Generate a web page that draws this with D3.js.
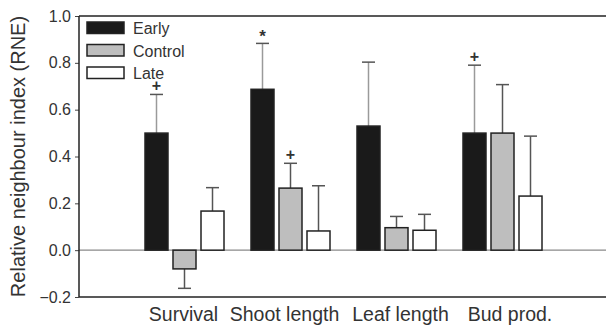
<!DOCTYPE html>
<html>
<head>
<meta charset="utf-8">
<script src="https://cdn.jsdelivr.net/npm/d3@7"></script>
<style>
  body { margin: 0; background: #fff; }
  text { font-family: "Liberation Sans", Arial, sans-serif; fill: #333; }
</style>
</head>
<body>
<div id="chart"></div>
<script>
// data
var categories = ["Survival", "Shoot length", "Leaf length", "Bud prod."];
var seriesNames = ["Early", "Control", "Late"];
var earlyValues = [0.50, 0.687, 0.53, 0.50];
var earlyErrors = [0.665, 0.883, 0.803, 0.79];
var controlValues = [-0.08, 0.265, 0.096, 0.50];
var controlErrors = [-0.163, 0.371, 0.144, 0.707];
var lateValues = [0.167, 0.082, 0.085, 0.231];
var lateErrors = [0.267, 0.275, 0.153, 0.487];
var yTicks = [-0.2, 0.0, 0.2, 0.4, 0.6, 0.8, 1.0];
var signifCats = ["Survival", "Shoot length", "Shoot length", "Bud prod."];
var signifSeries = ["Early", "Early", "Control", "Early"];
var signifSymbols = ["+", "*", "+", "+"];

var fills = { Early: "#1a1a1a", Control: "#bebebe", Late: "#ffffff" };

var rows = [];
categories.forEach(function (c, i) {
    rows.push({ cat: c, series: "Early", value: earlyValues[i], err: earlyErrors[i] });
    rows.push({ cat: c, series: "Control", value: controlValues[i], err: controlErrors[i] });
    rows.push({ cat: c, series: "Late", value: lateValues[i], err: lateErrors[i] });
});

var W = 606, H = 329;
var plotLeft = 79, plotTop = 16, plotBottom = 297;

var svg = d3.select("#chart").append("svg")
    .attr("width", W)
    .attr("height", H);

var y = d3.scaleLinear().domain([-0.2, 1.0]).range([plotBottom, plotTop]);

var x = d3.scaleBand().domain(categories).range([131.5, 555.5]).padding(0);
var xs = d3.scaleBand().domain(seriesNames).range([0, x.bandwidth()])
    .paddingInner(5 / 28).paddingOuter(0.482);

// zero line
svg.append("line")
    .attr("x1", plotLeft).attr("x2", W)
    .attr("y1", y(0)).attr("y2", y(0))
    .attr("stroke", "#8a8a8a").attr("stroke-width", 1.2);

// error bars
var errG = svg.append("g");
rows.forEach(function (d) {
    var cx = x(d.cat) + xs(d.series) + xs.bandwidth() / 2;
    var col = d.series == "Early" ? "#9a9a9a" : "#555";
    errG.append("line")
        .attr("x1", cx).attr("x2", cx)
        .attr("y1", y(d.value)).attr("y2", y(d.err))
        .attr("stroke", col).attr("stroke-width", 1.5);
    errG.append("line")
        .attr("x1", cx - 6.5).attr("x2", cx + 6.5)
        .attr("y1", y(d.err)).attr("y2", y(d.err))
        .attr("stroke", "#555").attr("stroke-width", 1.5);
});

// bars
svg.append("g")
    .selectAll("rect")
    .data(rows)
    .enter()
    .append("rect")
    .attr("x", function (d) { return x(d.cat) + xs(d.series); })
    .attr("y", function (d) { return y(Math.max(0, d.value)); })
    .attr("width", xs.bandwidth())
    .attr("height", function (d) { return Math.abs(y(d.value) - y(0)); })
    .attr("fill", function (d) { return fills[d.series]; })
    .attr("stroke", "#222")
    .attr("stroke-width", 1.5);

// significance symbols
signifSymbols.forEach(function (s, i) {
    var r = rows.filter(function (d) { return d.cat == signifCats[i] && d.series == signifSeries[i]; })[0];
    var cx = x(r.cat) + xs(r.series) + xs.bandwidth() / 2;
    svg.append("text")
        .attr("x", cx)
        .attr("y", y(r.err) - (s == "*" ? 1 : 3))
        .attr("text-anchor", "middle")
        .style("font-size", s == "*" ? "17px" : "16px")
        .style("font-weight", "bold")
        .text(s);
});

// y axis
var yAxis = svg.append("g")
    .attr("transform", "translate(" + plotLeft + ",0)")
    .call(d3.axisLeft(y).tickValues(yTicks).tickSize(4).tickPadding(4)
        .tickFormat(function (d) { return d < 0 ? "\u22120.2" : d3.format(".1f")(d); }));
yAxis.select(".domain").remove();
yAxis.selectAll("line").attr("stroke", "#444");
yAxis.selectAll("text").style("font-size", "16px").style("fill", "#333")
    .style("font-family", "'Liberation Sans', Arial, sans-serif");

// frame lines
svg.append("line").attr("x1", plotLeft).attr("x2", plotLeft).attr("y1", plotTop).attr("y2", plotBottom)
    .attr("stroke", "#222").attr("stroke-width", 1.5);
svg.append("line").attr("x1", plotLeft).attr("x2", W).attr("y1", plotTop).attr("y2", plotTop)
    .attr("stroke", "#222").attr("stroke-width", 1.5);
svg.append("line").attr("x1", plotLeft).attr("x2", W).attr("y1", plotBottom).attr("y2", plotBottom)
    .attr("stroke", "#222").attr("stroke-width", 1.5);

// category labels (slightly off the group centres, as in the figure)
var labelShift = { "Survival": -1, "Shoot length": -6, "Leaf length": 4, "Bud prod.": 7.5 };
svg.append("g")
    .selectAll("text")
    .data(categories)
    .enter()
    .append("text")
    .attr("x", function (d) { return x(d) + x.bandwidth() / 2 + labelShift[d]; })
    .attr("y", 321)
    .attr("text-anchor", "middle")
    .style("font-size", "19.5px")
    .text(function (d) { return d; });

// y title
svg.append("text")
    .attr("transform", "translate(25," + (plotTop + plotBottom) / 2 + ") rotate(-90)")
    .attr("text-anchor", "middle")
    .style("font-size", "20px")
    .text("Relative neighbour index (RNE)");

// legend
var legend = svg.append("g").selectAll("g")
    .data(seriesNames)
    .enter()
    .append("g")
    .attr("transform", function (d, i) { return "translate(87," + (22 + i * 22.5) + ")"; });
legend.append("rect")
    .attr("width", 37).attr("height", 11.5)
    .attr("fill", function (d) { return fills[d]; })
    .attr("stroke", "#222").attr("stroke-width", 1.5);
legend.append("text")
    .attr("x", 46).attr("y", 12)
    .style("font-size", "16px")
    .text(function (d) { return d; });
</script>
</body>
</html>
